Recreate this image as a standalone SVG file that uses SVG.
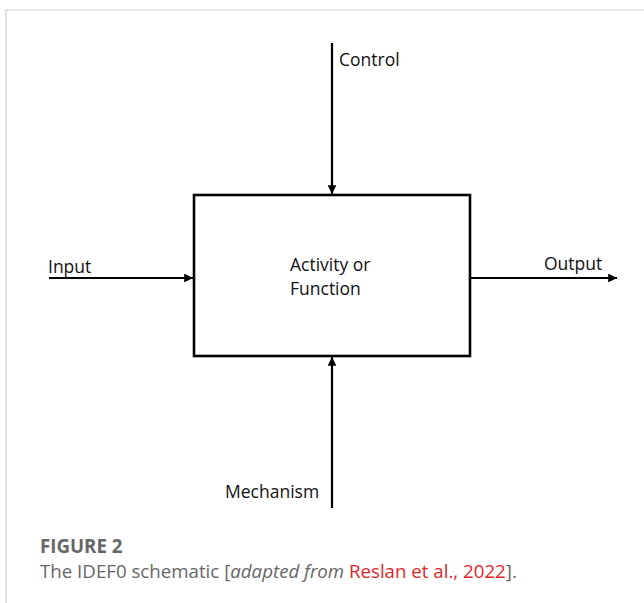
<svg xmlns="http://www.w3.org/2000/svg" width="644" height="603" viewBox="0 0 644 603">
<defs>
<marker id="ah" viewBox="0 0 10 10" refX="10" refY="5" markerWidth="4" markerHeight="4" orient="auto" markerUnits="strokeWidth">
<path d="M0,0 L10,5 L0,10 z" fill="#000"/>
</marker>
<style>
.lbl{font-family:"Open Sans","Liberation Sans",sans-serif;font-size:17.5px;fill:#111}
.cap{font-family:"Open Sans",Lato,sans-serif;font-size:18.7px;fill:#666}
.conn{stroke:#000;stroke-width:2.2;fill:none;marker-end:url(#ah)}
</style>
</defs>
<rect width="644" height="603" fill="#fff"/>
<path d="M6,603 V10 H644" fill="none" stroke="#cfcfcf" stroke-width="1.2"/>
<g id="activity">
<rect x="194" y="195" width="276" height="161" fill="#fff" stroke="#000" stroke-width="2.6"/>
<text class="lbl" x="290" y="271">Activity or</text>
<text class="lbl" x="290" y="295">Function</text>
</g>
<g id="connectors">
<line class="conn" x1="332" y1="43" x2="332" y2="194"/>
<line class="conn" x1="49" y1="278" x2="193" y2="278"/>
<line class="conn" x1="471" y1="278" x2="617" y2="278"/>
<line class="conn" x1="332" y1="508" x2="332" y2="357"/>
</g>
<g id="control"><text class="lbl" x="339" y="66">Control</text></g>
<g id="input"><text class="lbl" x="48" y="273">Input</text></g>
<g id="output"><text class="lbl" x="544" y="270">Output</text></g>
<g id="mechanism"><text class="lbl" x="225" y="498">Mechanism</text></g>
<g id="caption">
<text class="cap" x="40" y="553" font-weight="bold" font-size="18px">FIGURE 2</text>
<text class="cap" x="40" y="578">The IDEF0 schematic [<tspan font-style="italic">adapted from</tspan> <tspan fill="#e3262b">Reslan et al., 2022</tspan>].</text>
</g>
</svg>
